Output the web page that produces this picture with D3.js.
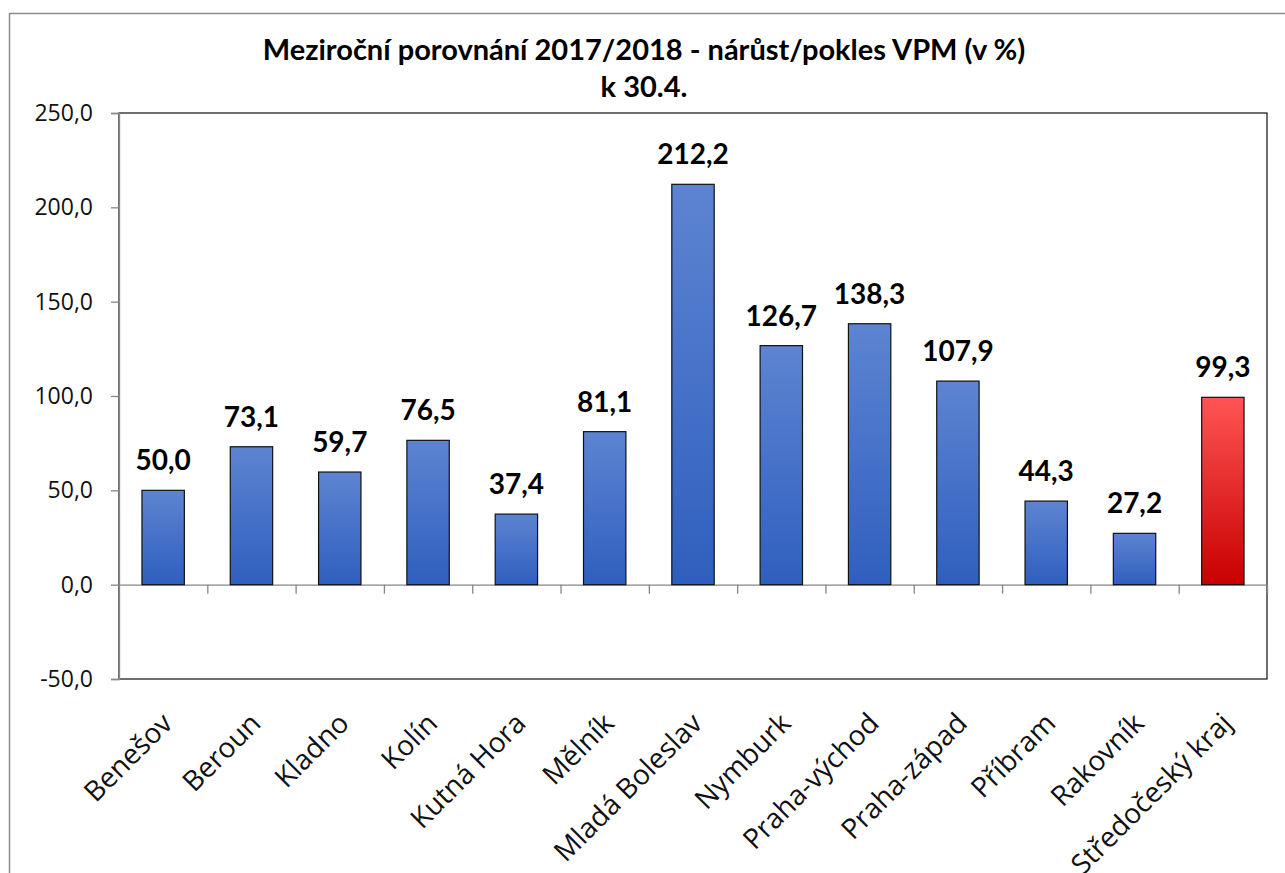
<!DOCTYPE html>
<html>
<head>
<meta charset="utf-8">
<script src="https://cdn.jsdelivr.net/npm/d3@7"></script>
<style>
	body { margin: 0; background: #fff; }
	svg { display: block; font-family: Lato, sans-serif; }
	.seg { font-family: "Open Sans", "Noto Sans", sans-serif; }
</style>
</head>
<body>
<div id="chart"></div>
<script>
// ---------- DATA ----------
const districts = [
	"Benešov", "Beroun", "Kladno", "Kolín", "Kutná Hora", "Mělník",
	"Mladá Boleslav", "Nymburk", "Praha-východ", "Praha-západ",
	"Příbram", "Rakovník", "Středočeský kraj",
];
const growth = [50.0, 73.1, 59.7, 76.5, 37.4, 81.1, 212.2, 126.7, 138.3, 107.9, 44.3, 27.2, 99.3];
const yTicks = [-50, 0, 50, 100, 150, 200, 250];
const titleLines = ["Meziroční porovnání 2017/2018 - nárůst/pokles VPM (v %)", "k 30.4."];

const size = { w: 1285, h: 873 };
const plot = { left: 119, top: 113, right: 1267, bottom: 679 };

const fmt = (v) => d3.format(".1f")(v).replace(".", ",").replace("−", "-");

const svg = d3
	.select("#chart")
	.append("svg")
	.attr("width", size.w)
	.attr("height", size.h);

// gradients
const defs = svg.append("defs");
function gradient(id, top, bottom) {
	const g = defs.append("linearGradient").attr("id", id)
		.attr("x1", 0).attr("y1", 0).attr("x2", 0).attr("y2", 1);
	g.append("stop").attr("offset", "0%").attr("stop-color", top);
	g.append("stop").attr("offset", "100%").attr("stop-color", bottom);
}
gradient("blueGrad", "#5d84d2", "#2f5fbe");
gradient("redGrad", "#ff5454", "#c80000");

// outer frame
svg.append("rect")
	.attr("x", 9.5).attr("y", 13.5)
	.attr("width", 1300).attr("height", 900)
	.attr("fill", "none").attr("stroke", "#8c8c8c").attr("stroke-width", 1.5);

// scales
const x = d3.scaleBand()
	.domain(districts)
	.range([plot.left, plot.right])
	.paddingInner(0.52)
	.paddingOuter(0.26);
const y = d3.scaleLinear()
	.domain([-50, 250])
	.range([plot.bottom, plot.top]);

// plot area border
svg.append("rect")
	.attr("x", plot.left).attr("y", plot.top)
	.attr("width", plot.right - plot.left).attr("height", plot.bottom - plot.top)
	.attr("fill", "none").attr("stroke", "#222").attr("stroke-width", 1.3);

// y axis
const yAxis = svg.append("g")
	.attr("transform", `translate(${plot.left},0)`)
	.call(d3.axisLeft(y).tickValues(yTicks).tickFormat(fmt).tickSize(8).tickPadding(18));
yAxis.attr("font-family", null);
yAxis.select(".domain").attr("stroke", "#868686").attr("stroke-width", 1.3);
yAxis.selectAll(".tick line").attr("stroke", "#868686").attr("stroke-width", 1.3);
yAxis.selectAll(".tick text")
	.classed("seg", true)
	.attr("font-size", 23).attr("fill", "#111");

// zero line with category ticks
const xAxis = svg.append("g")
	.attr("transform", `translate(0,${y(0)})`)
	.call(
		d3.axisBottom(d3.scaleLinear().domain([0, districts.length]).range([plot.left, plot.right]))
			.tickValues(d3.range(1, districts.length + 1))
			.tickSize(9)
			.tickFormat("")
			.tickSizeOuter(0)
	);
xAxis.select(".domain").attr("stroke", "#868686").attr("stroke-width", 1.3);
xAxis.selectAll(".tick line").attr("stroke", "#868686").attr("stroke-width", 1.3);

// bars
const last = districts.length - 1;
svg.append("g")
	.selectAll("rect")
	.data(growth)
	.join("rect")
	.attr("x", (d, i) => x(districts[i]))
	.attr("y", (d) => y(Math.max(0, d)))
	.attr("width", x.bandwidth())
	.attr("height", (d) => Math.abs(y(d) - y(0)))
	.attr("fill", (d, i) => (i === last ? "url(#redGrad)" : "url(#blueGrad)"))
	.attr("stroke", "#111")
	.attr("stroke-width", 1.2);

// value labels
svg.append("g")
	.selectAll("text")
	.data(growth)
	.join("text")
	.attr("x", (d, i) => x(districts[i]) + x.bandwidth() / 2)
	.attr("y", (d) => y(d) - 20)
	.attr("text-anchor", "middle")
	.attr("font-size", 28)
	.attr("font-weight", "bold")
	.attr("fill", "#000")
	.text(fmt);

// category labels
svg.append("g")
	.selectAll("text")
	.data(districts)
	.join("text")
	.classed("seg", true)
	.attr("transform", (d) => `translate(${x(d) + x.bandwidth() / 2 + 11},${plot.bottom + 46}) rotate(-45)`)
	.attr("text-anchor", "end")
	.attr("font-size", 28)
	.attr("fill", "#111")
	.text((d) => d);

// title
svg.append("g")
	.selectAll("text")
	.data(titleLines)
	.join("text")
	.attr("x", 644)
	.attr("y", (d, i) => 60 + i * 37)
	.attr("text-anchor", "middle")
	.attr("font-size", 29)
	.attr("font-weight", "bold")
	.attr("fill", "#000")
	.text((d) => d);
</script>
</body>
</html>
